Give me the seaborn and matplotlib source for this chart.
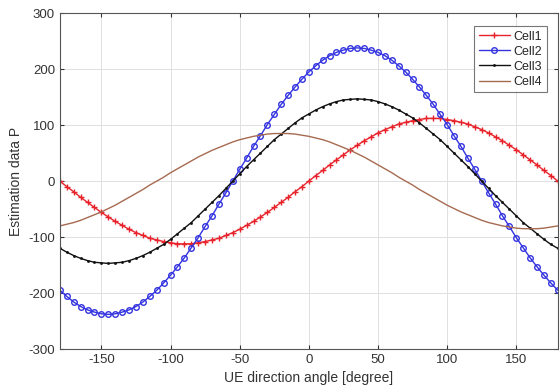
import numpy as np
import pandas as pd
import matplotlib
matplotlib.use("Agg")
import matplotlib.pyplot as plt
import seaborn as sns

# UE direction angle [degree], 5 degree steps
angles = list(range(-180, 185, 5))

cell1 = [0, -10, -19, -29, -38, -47, -56, -64, -72, -79, -86, -92, -97, -102, -105, -108, -110, -112,
         -112, -112, -110, -108, -105, -102, -97, -92, -86, -79, -72, -64, -56, -47, -38, -29, -19, -10,
         0, 10, 19, 29, 38, 47, 56, 64, 72, 79, 86, 92, 97, 102, 105, 108, 110, 112,
         112, 112, 110, 108, 105, 102, 97, 92, 86, 79, 72, 64, 56, 47, 38, 29, 19, 10, 0]

cell2 = [-195, -206, -216, -224, -230, -234, -237, -238,
         -237, -234, -230, -224, -216, -206, -195, -182, -168, -153, -137, -119, -101, -81, -62, -41, -21, 0,
         21, 41, 62, 81, 101, 119, 137, 153, 168, 182, 195, 206, 216, 224, 230, 234, 237, 238,
         237, 234, 230, 224, 216, 206, 195, 182, 168, 153, 137, 119, 101, 81, 62, 41, 21, 0,
         -21, -41, -62, -81, -101, -119, -137, -153, -168, -182, -195]

cell3 = [-120, -127, -133, -138, -142, -145, -146, -147,
         -146, -145, -142, -138, -133, -127, -120, -113, -104, -94, -84, -74, -62, -50, -38, -26, -13, 0,
         13, 26, 38, 50, 62, 74, 84, 94, 104, 113, 120, 127, 133, 138, 142, 145, 146, 147,
         146, 145, 142, 138, 133, 127, 120, 113, 104, 94, 84, 74, 62, 50, 38, 26, 13, 0,
         -13, -26, -38, -50, -62, -74, -84, -94, -104, -113, -120]

cell4 = [-80, -77, -74, -70, -65, -60, -55, -49, -43, -36, -29, -22, -15, -7, 0, 7, 15, 22, 29, 36,
         43, 49, 55, 60, 65, 70, 74, 77, 80, 82, 84, 85, 85,
         85, 84, 82, 80, 77, 74, 70, 65, 60, 55, 49, 43, 36, 29, 22, 15, 7, 0,
         -7, -15, -22, -29, -36, -43, -49, -55, -60, -65, -70, -74, -77, -80, -82, -84, -85, -85,
         -85, -84, -82, -80]

cell_names = ["Cell1", "Cell2", "Cell3", "Cell4"]
x_ticks = [-150, -100, -50, 0, 50, 100, 150]
y_ticks = [-300, -200, -100, 0, 100, 200, 300]

sns.set_theme(style="whitegrid")
plt.rcParams["font.family"] = ["Liberation Sans", "DejaVu Sans"]
plt.rcParams["axes.unicode_minus"] = False

df = pd.DataFrame({
    "angle": angles * 4,
    "value": cell1 + cell2 + cell3 + cell4,
    "cell": [n for n in cell_names for _ in angles],
})

palette = {"Cell1": "#e8232b", "Cell2": "#3333e0", "Cell3": "#111111", "Cell4": "#a66a50"}
styles = {
    "Cell1": dict(marker="+", markersize=5, markeredgewidth=1.0),
    "Cell2": dict(marker="o", markersize=4, markerfacecolor="none", markeredgewidth=1.0),
    "Cell3": dict(marker=".", markersize=3, markeredgewidth=0.5),
    "Cell4": dict(marker=None),
}

fig = plt.figure(figsize=(5.6, 3.87), dpi=100)
ax = fig.add_axes([0.107, 0.098, 0.889, 0.868])

for name in cell_names:
    sub = df[df["cell"] == name]
    sns.lineplot(data=sub, x="angle", y="value", ax=ax, color=palette[name],
                 markeredgecolor=palette[name], linewidth=1.0, label=name, **styles[name])

ax.set_xlim(-180, 180)
ax.set_ylim(-300, 300)
ax.set_xticks(x_ticks)
ax.set_yticks(y_ticks)
ax.set_xlabel("UE direction angle [degree]", fontsize=10, color="#333333")
ax.set_ylabel("Estimation data P", fontsize=10, color="#333333")
ax.tick_params(labelsize=9.5, colors="#333333", direction="in", length=3, width=0.8,
               top=True, right=True, bottom=True, left=True)
ax.set_facecolor("white")
ax.grid(True, color="#e0e0e0", linewidth=0.7)
for s in ax.spines.values():
    s.set_color("#555555")
    s.set_linewidth(0.8)

leg = ax.legend(loc="upper right", fontsize=9, frameon=True, fancybox=False,
                borderpad=0.35, labelspacing=0.25, handlelength=2.5, handletextpad=0.3,
                bbox_to_anchor=(0.99, 0.98))
leg.get_frame().set_edgecolor("#555555")
leg.get_frame().set_linewidth(0.8)

fig.savefig("out.png", dpi=100)
